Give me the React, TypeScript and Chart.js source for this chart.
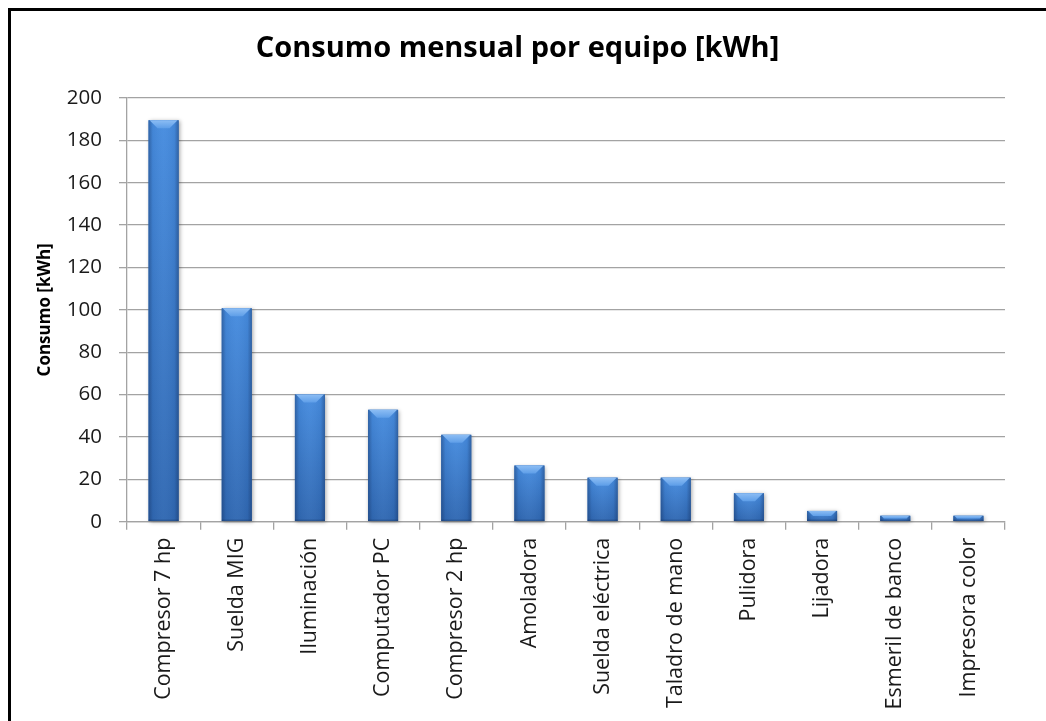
import { useEffect, useRef } from "react";
import { Chart, registerables } from "chart.js";

Chart.register(...registerables);

// Monthly energy use per piece of equipment
const equipos = [
  "Compresor 7 hp",
  "Suelda MIG",
  "Iluminación",
  "Computador PC",
  "Compresor 2 hp",
  "Amoladora",
  "Suelda eléctrica",
  "Taladro de mano",
  "Pulidora",
  "Lijadora",
  "Esmeril de banco",
  "Impresora color",
];
const consumoKWh = [189.5, 100.7, 60, 52.8, 41, 26.5, 20.8, 20.8, 13.4, 5.1, 2.8, 2.8];

const yMin = 0;
const yMax = 200;
const yStep = 20;

const titulo = "Consumo mensual por equipo [kWh]";
const tituloEjeY = "Consumo [kWh]";

const FONT = "'Open Sans', 'DejaVu Sans', sans-serif";
const GRID = "#a3a3a3";

// Paints each bar as a bevelled 3D-style column using the element geometry
const bevelBars = {
  id: "bevelBars",
  afterDatasetsDraw(chart: any) {
    const ctx: CanvasRenderingContext2D = chart.ctx;
    const meta = chart.getDatasetMeta(0);
    meta.data.forEach((el: any) => {
      const { x, y, base, width } = el.getProps(["x", "y", "base", "width"], true);
      const l = x - width / 2;
      const r = x + width / 2;
      const h = base - y;
      if (h <= 0) return;
      ctx.save();

      // body with soft drop shadow
      ctx.shadowColor = "rgba(0,0,0,0.35)";
      ctx.shadowBlur = 4;
      ctx.shadowOffsetX = 1;
      ctx.shadowOffsetY = 1;
      const vg = ctx.createLinearGradient(0, y, 0, base);
      vg.addColorStop(0, "#468cdf");
      vg.addColorStop(1, "#3068b2");
      ctx.fillStyle = vg;
      ctx.fillRect(l, y, width, h);
      ctx.shadowColor = "transparent";

      // side shading
      const hg = ctx.createLinearGradient(l, 0, r, 0);
      hg.addColorStop(0, "rgba(15,35,75,0.38)");
      hg.addColorStop(0.14, "rgba(15,35,75,0.06)");
      hg.addColorStop(0.5, "rgba(255,255,255,0.03)");
      hg.addColorStop(0.86, "rgba(15,35,75,0.06)");
      hg.addColorStop(1, "rgba(15,35,75,0.38)");
      ctx.fillStyle = hg;
      ctx.fillRect(l, y, width, h);

      // top bevel
      const d = Math.min(8, h / 2);
      const tg = ctx.createLinearGradient(0, y, 0, y + d);
      tg.addColorStop(0, "#8cbdf4");
      tg.addColorStop(1, "#5e9ee8");
      ctx.fillStyle = tg;
      ctx.beginPath();
      ctx.moveTo(l + 1, y);
      ctx.lineTo(r - 1, y);
      ctx.lineTo(r - 1 - d, y + d);
      ctx.lineTo(l + 1 + d, y + d);
      ctx.closePath();
      ctx.fill();

      // bottom edge
      const bd = Math.min(1.5, h / 4);
      ctx.fillStyle = "rgba(20,45,90,0.3)";
      ctx.fillRect(l, base - bd, width, bd);

      ctx.restore();
    });
  },
};

export default function App() {
  const canvasRef = useRef<HTMLCanvasElement | null>(null);

  useEffect(() => {
    if (!canvasRef.current) return;
    const chart = new Chart(canvasRef.current, {
      type: "bar",
      data: {
        labels: equipos,
        datasets: [
          {
            label: tituloEjeY,
            data: consumoKWh,
            backgroundColor: "#3c7bcb",
            borderWidth: 0,
            categoryPercentage: 1,
            barPercentage: 0.41,
          },
        ],
      },
      options: {
        responsive: false,
        animation: false,
        devicePixelRatio: 1,
        layout: { padding: { left: 30, right: 41, top: 0, bottom: 0 } },
        plugins: {
          legend: { display: false },
          tooltip: { enabled: false },
          title: {
            display: true,
            text: titulo,
            color: "#000",
            font: { family: FONT, size: 29, weight: "bold" },
            padding: { top: 31, bottom: 32.2 },
          },
        },
        scales: {
          x: {
            offset: true,
            afterFit: (scale: any) => {
              scale.height = 199.3;
            },
            grid: {
              offset: true,
              drawOnChartArea: false,
              drawTicks: true,
              tickLength: 8,
              color: GRID,
              lineWidth: 1.3,
            },
            border: { display: true, color: GRID, width: 1.3 },
            ticks: {
              autoSkip: false,
              maxRotation: 90,
              minRotation: 90,
              padding: 8,
              color: "#1a1a1a",
              font: { family: FONT, size: 21.5 },
            },
          },
          y: {
            min: yMin,
            max: yMax,
            afterFit: (scale: any) => {
              scale.width = 97;
            },
            grid: {
              color: GRID,
              lineWidth: 1.3,
              drawTicks: true,
              tickLength: 8,
            },
            border: { display: true, color: GRID, width: 1.3 },
            ticks: {
              stepSize: yStep,
              padding: 17,
              color: "#1a1a1a",
              font: { family: FONT, size: 20.5 },
            },
            title: {
              display: true,
              text: tituloEjeY,
              color: "#000",
              font: { family: FONT, size: 17, weight: "bold" },
              padding: { top: 5, bottom: 0 },
            },
          },
        },
      },
      plugins: [bevelBars],
    });
    return () => chart.destroy();
  }, []);

  return (
    <div style={{ position: "fixed", left: 0, top: 0, width: 1046, height: 721, background: "#fff" }}>
      <canvas
        ref={canvasRef}
        width={1046}
        height={721}
        style={{ position: "absolute", left: 0, top: 0, width: 1046, height: 721 }}
      />
      <div
        style={{
          position: "absolute",
          left: 8,
          top: 8,
          width: 1100,
          height: 800,
          borderTop: "3px solid #000",
          borderLeft: "3px solid #000",
          pointerEvents: "none",
        }}
      />
    </div>
  );
}
